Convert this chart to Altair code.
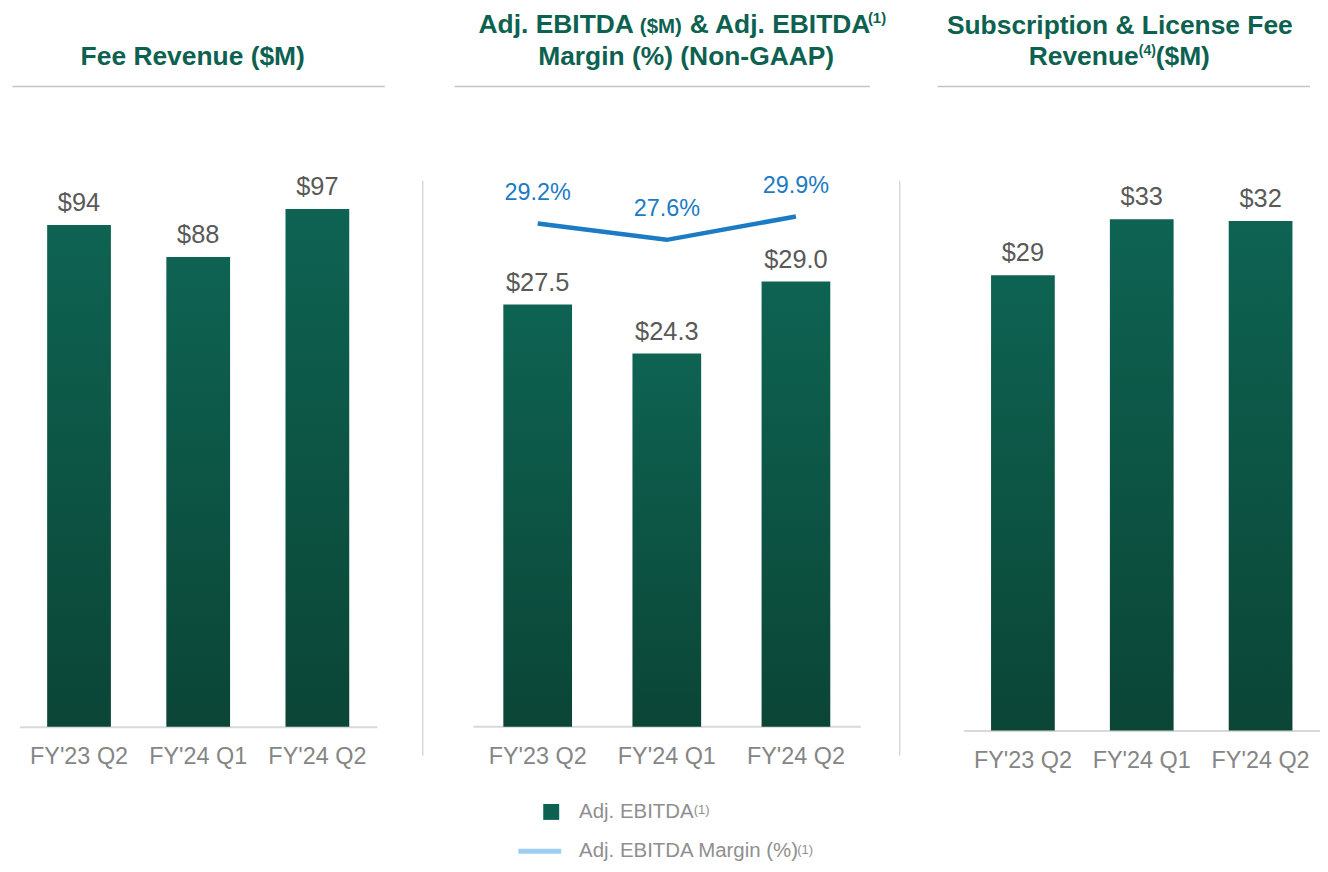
import altair as alt
import pandas as pd

# ---------------- data ----------------
quarters = ["FY'23 Q2", "FY'24 Q1", "FY'24 Q2"]
fee_revenue = [94, 88, 97]
fee_labels = ["$94", "$88", "$97"]
adj_ebitda = [27.5, 24.3, 29.0]
adj_ebitda_labels = ["$27.5", "$24.3", "$29.0"]
ebitda_margin = [29.2, 27.6, 29.9]
ebitda_margin_labels = ["29.2%", "27.6%", "29.9%"]
sub_license_revenue = [29.3, 32.9, 32.8]
sub_license_labels = ["$29", "$33", "$32"]

# ---------------- styles ----------------
FONT = "Liberation Sans"
GREEN = "#0d6150"
BLUE = "#1b7bc4"
LIGHT_BLUE = "#9dcff2"
VALUE_GRAY = "#595959"
AXIS_GRAY = "#858585"
LEGEND_GRAY = "#8f8f8f"
RULE_GRAY = "#c4c4c4"
SEP_GRAY = "#d9d9d9"
TITLE_SIZE = 26.5

grad = alt.Gradient(
    gradient="linear",
    stops=[alt.GradientStop(color="#0e6352", offset=0),
           alt.GradientStop(color="#0b4536", offset=1)],
    x1=0, x2=0, y1=0, y2=1,
)

one = pd.DataFrame({"k": [0]})


def axis_x(domain=True):
    return alt.Axis(title=None, labelFont=FONT, labelFontSize=23.5, labelColor=AXIS_GRAY,
                    domain=domain, domainColor=SEP_GRAY, domainWidth=2, ticks=False,
                    tickSize=0, labelPadding=18, labelAngle=0, grid=False)


def txt(s, x, y, size, bold=True, color=GREEN, align="left"):
    return alt.Chart(pd.DataFrame({"t": [s]})).mark_text(
        font=FONT, fontSize=size, fontWeight="bold" if bold else "normal",
        color=color, align=align, baseline="alphabetic"
    ).encode(x=alt.value(x), y=alt.value(y), text="t:N")


def hrule(x1, x2, y, color=RULE_GRAY, w=1.5):
    return alt.Chart(one).mark_rule(color=color, strokeWidth=w).encode(
        x=alt.value(x1), x2=alt.value(x2), y=alt.value(y))


def vrule(x, y1, y2, color=SEP_GRAY, w=1.5):
    return alt.Chart(one).mark_rule(color=color, strokeWidth=w).encode(
        x=alt.value(x), y=alt.value(y1), y2=alt.value(y2))


def bar_layers(values, labels, ymax, scale, domain=True):
    df = pd.DataFrame({"q": quarters, "v": values, "lab": labels})
    x = alt.X("q:N", sort=quarters, scale=scale, axis=axis_x(domain))
    y = alt.Y("v:Q", scale=alt.Scale(domain=[0, ymax]), axis=None)
    bars = alt.Chart(df).mark_bar(color=grad).encode(x=x, y=y)
    text = alt.Chart(df).mark_text(font=FONT, fontSize=25.5, color=VALUE_GRAY,
                                   baseline="alphabetic", dy=-14).encode(
        x=x, y=y, text="lab:N")
    return x, bars, text


# ---------------- panel 1 ----------------
x1, b1, t1 = bar_layers(fee_revenue, fee_labels, 134.3,
                        alt.Scale(paddingInner=0.465, paddingOuter=0.2325))
p1 = alt.layer(
    b1, t1,
    txt("Fee Revenue ($M)", 174, 55, TITLE_SIZE, align="center"),
    hrule(-7, 367, 77),
    vrule(405, 172, 749),
).properties(width=359, height=720)

# ---------------- panel 2 ----------------
x2, b2, t2 = bar_layers(adj_ebitda, adj_ebitda_labels, 46.69,
                        alt.Scale(paddingInner=0.468, paddingOuter=0.2648, align=0.45),
                        domain=False)
df_m = pd.DataFrame({"q": quarters, "m": ebitda_margin, "lab": ebitda_margin_labels})
ym = alt.Y("m:Q", scale=alt.Scale(domain=[-20.34, 50.25]), axis=None)
line = alt.Chart(df_m).mark_line(color=BLUE, strokeWidth=4.5).encode(x=x2, y=ym)
pct = alt.Chart(df_m).mark_text(font=FONT, fontSize=23.5, color=BLUE,
                                baseline="alphabetic", dy=-24).encode(
    x=x2, y=ym, text="lab:N")
legend_sq = alt.Chart(one).mark_square(size=256, color=GREEN, opacity=1).encode(
    x=alt.value(79), y=alt.value(805.5))
p2 = alt.layer(
    hrule(1, 390, 720, color=SEP_GRAY, w=2),
    b2, t2, line, pct,
    txt("Adj. EBITDA", 6, 23, TITLE_SIZE),
    txt("($M)", 168, 23, 20.5),
    txt("& Adj. EBITDA", 218, 23, TITLE_SIZE),
    txt("(1)", 397, 13, 15),
    txt("Margin (%) (Non-GAAP)", 214.5, 55.3, TITLE_SIZE, align="center"),
    hrule(-18, 399, 77),
    vrule(429, 172, 749),
    legend_sq,
    hrule(46, 89, 845, color=LIGHT_BLUE, w=5),
    txt("Adj. EBITDA", 107, 811.5, 20.5, bold=False, color=LEGEND_GRAY),
    txt("(1)", 222, 807.3, 13, bold=False, color=LEGEND_GRAY),
    txt("Adj. EBITDA Margin (%)", 107, 851, 20.5, bold=False, color=LEGEND_GRAY),
    txt("(1)", 326, 847.3, 13, bold=False, color=LEGEND_GRAY),
).resolve_scale(y="independent").properties(width=397, height=720)

# ---------------- panel 3 ----------------
x3, b3, t3 = bar_layers(sub_license_revenue, sub_license_labels, 46.39,
                        alt.Scale(paddingInner=0.4637, paddingOuter=0.23185))
p3 = alt.layer(
    b3, t3,
    txt("Subscription & License Fee", 157, 24, TITLE_SIZE, align="center"),
    txt("Revenue", 65.5, 55.3, TITLE_SIZE),
    txt("(4)", 176, 45.2, 14),
    txt("($M)", 193, 55.3, TITLE_SIZE),
    hrule(-26, 348, 77),
).properties(width=358, height=723.7)

chart = alt.hconcat(p1, p2, p3, spacing=96, bounds="flush").properties(
    padding={"left": 3.5, "top": 0, "right": 0, "bottom": 0}
).configure_view(stroke=None)

chart.save("out.html", embed_options={"renderer": "svg", "actions": False})
